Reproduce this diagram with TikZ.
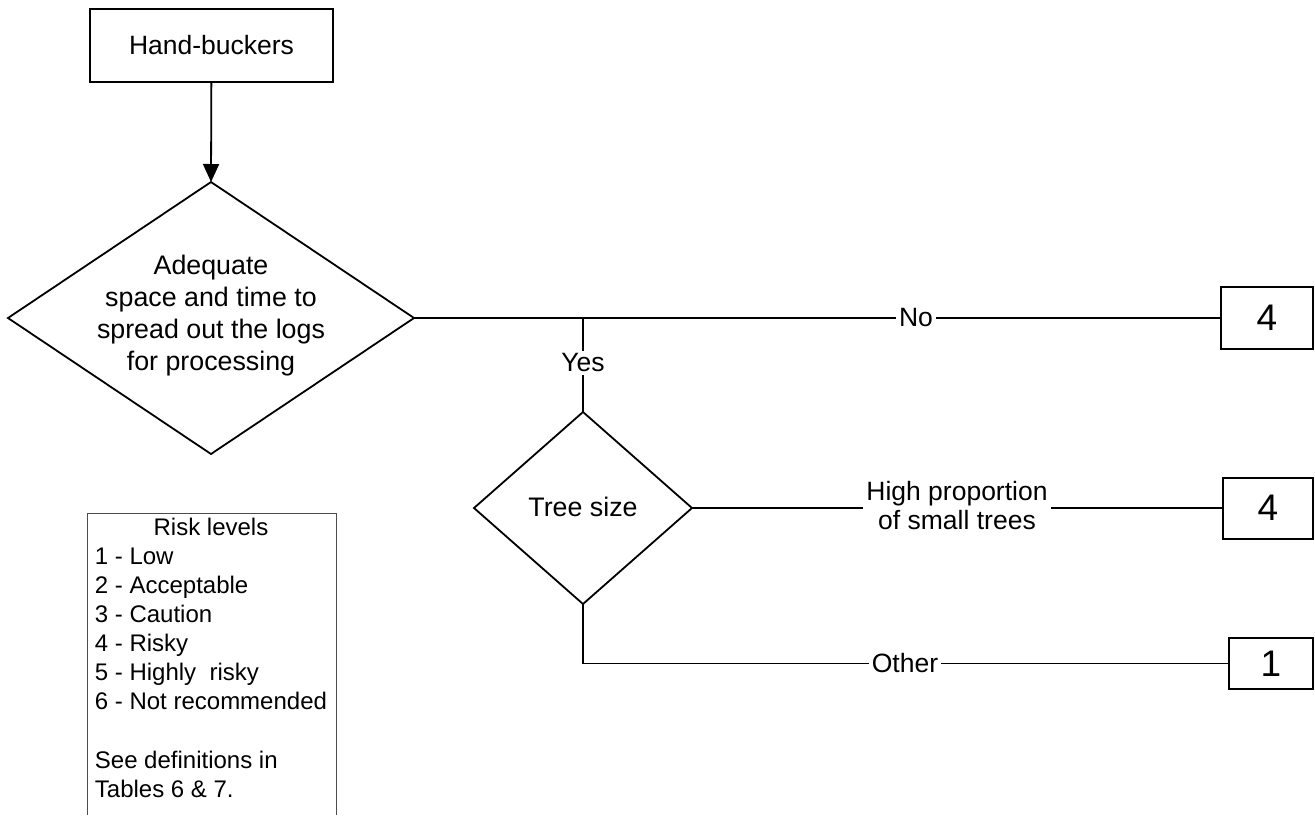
\documentclass[tikz,border=0pt]{standalone}
\usepackage{fontspec}
\setmainfont{Liberation Sans}
\usetikzlibrary{arrows.meta}
\begin{document}
\begin{tikzpicture}[x=1pt,y=-1pt,line width=1.8pt,
  box/.style={draw,line width=2pt,inner sep=0pt},
  numbox/.style={box,font=\fontsize{37}{40}\selectfont},
  txt/.style={inner sep=0pt,font=\fontsize{26.8}{32}\selectfont,align=center},
  lab/.style={fill=white,inner sep=3pt,font=\fontsize{26.5}{29}\selectfont,align=center},
  leg/.style={inner sep=0pt,anchor=base west,font=\fontsize{24}{29}\selectfont},
  arr/.style={-{Triangle[width=16pt,length=18pt]}}]
\useasboundingbox (0,0) rectangle (1315,815);

% start box
\node[box,minimum width=243pt,minimum height=73pt,font=\fontsize{26.5}{32}\selectfont] (hand) at (211.5,45.5) {Hand-buckers};

% diamond 1
\coordinate (d1t) at (211,182);
\coordinate (d1b) at (211,454);
\coordinate (d1l) at (8,318);
\coordinate (d1r) at (414,318);
\draw (d1t) -- (d1r) -- (d1b) -- (d1l) -- cycle;
\node[txt] (q1) at (211,316) {Adequate\\space and time to\\spread out the logs\\for processing};

% diamond 2
\coordinate (d2t) at (583,412);
\coordinate (d2b) at (583,604);
\coordinate (d2l) at (474,508);
\coordinate (d2r) at (692,508);
\draw (d2t) -- (d2r) -- (d2b) -- (d2l) -- cycle;
\node[txt] (q2) at (583,507) {Tree size};

% result boxes
\node[numbox,minimum width=92pt,minimum height=62pt] (r1) at (1267,318) {4};
\node[numbox,minimum width=90pt,minimum height=61pt] (r2) at (1268,508) {4};
\node[numbox,minimum width=84pt,minimum height=51pt] (r3) at (1271,663.5) {1};

% connectors
\draw[arr] (hand) -- (d1t);
\draw (d1r) -- (r1.west);
\coordinate (j1) at (583,318);
\draw (j1) -- (d2t);
\draw (d2r) -- (r2.west);
\draw (d2b) |- (r3.west);

% labels
\node[lab] (lno) at (916,318) {No};
\node[lab] (lyes) at (583,363) {Yes};
\node[lab] (lhigh) at (957,506) {High proportion\\of small trees};
\node[lab] (loth) at (905,663) {Other};

% legend
\draw[line width=1pt,black!70] (87,815) -- (87,513) -- (336,513) -- (336,815);
\node[inner sep=0pt,anchor=base,font=\fontsize{24}{29}\selectfont] (lt) at (211,535) {Risk levels};
\node[leg] (l1) at (94,564) {1 - Low};
\node[leg] (l2) at (94,593) {2 - Acceptable};
\node[leg] (l3) at (94,622) {3 - Caution};
\node[leg] (l4) at (94,651) {4 - Risky};
\node[leg] (l5) at (94,680) {5 - Highly\ \ risky};
\node[leg] (l6) at (94,709) {6 - Not recommended};
\node[leg] (l7) at (94,768) {See definitions in};
\node[leg] (l8) at (94,797) {Tables 6 \& 7.};
\end{tikzpicture}
\end{document}
